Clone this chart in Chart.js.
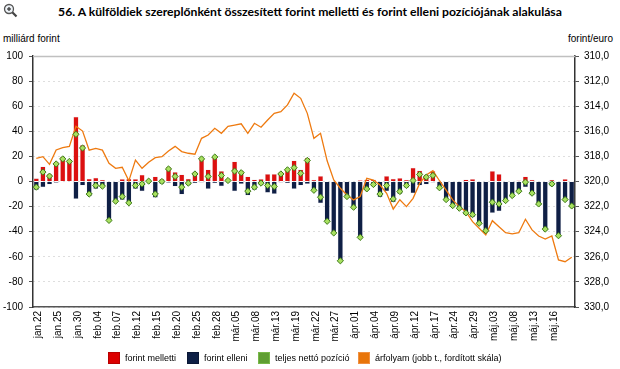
<!DOCTYPE html>
<html>
<head>
<meta charset="utf-8">
<script src="https://cdn.jsdelivr.net/npm/chart.js@4.4.1/dist/chart.umd.min.js"></script>
<style>
  html,body{margin:0;padding:0;background:#fff;}
  #wrap{position:relative;width:620px;height:369px;overflow:hidden;font-family:'Liberation Sans',Arial,sans-serif;color:#000;}
  #title{position:absolute;top:4px;left:0;width:620px;text-align:center;font:bold 12.2px 'Lato','Liberation Sans',sans-serif;white-space:nowrap;}
  .unit{position:absolute;top:33px;font-size:10px;}
  #cv{position:absolute;left:0;top:0;width:620px;height:369px;}
  #legend{position:absolute;top:352px;left:0;width:620px;height:14px;font-size:9px;}
  .lg{position:absolute;top:0;display:flex;align-items:center;white-space:nowrap;}
  .lg span.b{display:inline-block;width:12px;height:12px;margin-right:5px;box-sizing:border-box;}
  #icon{position:absolute;left:3px;top:3px;}
</style>
</head>
<body>
<div id="wrap">
  <svg id="icon" width="15" height="15" viewBox="0 0 15 15">
    <circle cx="6" cy="6" r="4.5" fill="#eef3f8" stroke="#555" stroke-width="1.3"/>
    <line x1="4" y1="6" x2="8" y2="6" stroke="#333" stroke-width="1.2"/>
    <line x1="6" y1="4" x2="6" y2="8" stroke="#333" stroke-width="1.2"/>
    <line x1="9.3" y1="9.3" x2="13.5" y2="13.5" stroke="#444" stroke-width="2.2"/>
  </svg>
  <div id="title">56. A külföldiek szereplőnként összesített forint melletti és forint elleni pozíciójának alakulása</div>
  <div class="unit" style="left:3px;">milliárd forint</div>
  <div class="unit" style="right:7px;">forint/euro</div>
  <div id="cv"><canvas id="c"></canvas></div>
  <div id="legend">
    <div class="lg" style="left:108px;"><span class="b" style="background:#dc0000;border:1px solid #b80000"></span>forint melletti</div>
    <div class="lg" style="left:187px;"><span class="b" style="background:#0d1f45;border:1px solid #0a1735"></span>forint elleni</div>
    <div class="lg" style="left:258px;"><span class="b" style="background:#5f9e32;border:1px solid #78b848"></span>teljes nettó pozíció</div>
    <div class="lg" style="left:358px;"><span class="b" style="background:#e8750a;border:1px solid #f09040"></span>árfolyam (jobb t., fordított skála)</div>
  </div>
</div>
<script>
// Categories (business days, 2019)
const dates = [
 'jan.22','jan.23','jan.24','jan.25','jan.28','jan.29','jan.30','jan.31',
 'feb.01','feb.04','feb.05','feb.06','feb.07','feb.08','feb.11','feb.12','feb.13','feb.14','feb.15','feb.18','feb.19','feb.20','feb.21','feb.22','feb.25','feb.26','feb.27','feb.28',
 'már.01','már.04','már.05','már.06','már.07','már.08','már.11','már.12','már.13','már.14','már.18','már.19','már.20','már.21','már.22','már.25','már.26','már.27','már.28','már.29',
 'ápr.01','ápr.02','ápr.03','ápr.04','ápr.05','ápr.08','ápr.09','ápr.10','ápr.11','ápr.12','ápr.15','ápr.16','ápr.17','ápr.18','ápr.23','ápr.24','ápr.25','ápr.26','ápr.29','ápr.30',
 'máj.02','máj.03','máj.06','máj.07','máj.08','máj.09','máj.10','máj.13','máj.14','máj.15','máj.16','máj.17','máj.20','máj.21'
];
// Tick labels shown on the x axis
const tickLabels = ['jan.22','jan.25','jan.30','feb.04','feb.07','feb.12','feb.15','feb.20','feb.25','feb.28',
 'már.05','már.08','már.13','már.19','már.22','már.27','ápr.01','ápr.04','ápr.09','ápr.12','ápr.17','ápr.24','ápr.29',
 'máj.03','máj.08','máj.13','máj.16'];

// forint melletti (billion HUF)
const forintMelletti = [2.5,12,6,15.5,20,17,51.5,29,2.1,3,1.3,0.5,0.5,2,2.1,2,5.3,0.5,4,2,
 11.5,7.5,5.6,2.1,7.5,19,9.6,20,8.3,2,16,8.8,4,1.6,2,6,6,7.5,10,16.8,
 9.6,19,1.3,4.3,0.3,0.3,0,0,0.3,1,1.5,1.5,0.5,4.3,2.1,2.7,1.3,11,8.8,5.6,
 8.3,0.5,0,0.3,0,1.5,2,0,0.5,8.3,6,0,0,0.8,4,1.3,0,0,1.3,0,2,0];
// forint elleni (billion HUF)
const forintElleni = [-6.7,-4.5,-2.4,-1,-0.5,-0.3,-13.9,-3.2,-12,-5.9,-4.5,-31,-16.5,-14.7,-17.9,-5.9,-7.7,-0.5,-13,-2,
 -1,-4,-10.4,-3.2,-1.3,-0.8,-5.9,-1.3,-3.7,-0.8,-7.7,-1.9,-11.2,-6.7,-3.2,-9,-9.9,-0.8,-1.3,-5.9,
 -3.2,-2,-7.7,-17.3,-32.5,-41.3,-63.7,-12.5,-20.5,-44.5,-7.2,-3.9,-12.5,-7.7,-16.5,-9.9,-5,-9.3,-3.2,-2.4,
 -0.8,-5.9,-15.2,-20,-21.9,-26.7,-28.5,-34.4,-39.7,-25,-23.7,-15.7,-12.5,-9,-4.5,-11.2,-19.2,-39.2,-4,-44,-15.7,-20.5];
// teljes nettó pozíció (billion HUF)
const nettoPozicio = [-4.5,7.5,4.3,14,18,16,37.6,26.7,-10,-3.2,-3.7,-31,-15.7,-12,-17,-3.2,-1.9,0.3,-10,0,
 10,4,-4.5,-1.3,6,18,4,19.5,4.8,0.8,8.3,7,-7.7,-4.5,-1.3,-3.2,-4,6,9.3,11,
 6.5,16.8,-7,-12.5,-31.7,-41,-63.2,-12,-20.5,-44.5,-5.9,-2.4,-10,-3.2,-13.9,-8,-3.2,0.8,5.6,3.5,
 4.8,-5,-14.4,-19.2,-21.3,-25,-26.4,-33.3,-39.2,-16.5,-17.9,-15.2,-11.2,-7.7,-0.5,-9.3,-17.9,-37.9,-1.9,-43.2,-14.4,-19.5];
// árfolyam (HUF/EUR, right axis, reversed)
const arfolyam = [318.15,318.02,318.63,317.49,317.3,317.2,315.6,315.98,317.5,317.36,317.5,318.55,318.95,318.87,319.95,318.29,318.95,318.47,318.1,318.02,
 317.57,317.2,317.62,317.75,317.83,316.56,316.3,315.76,316.16,315.6,315.5,315.4,316.16,315.36,315.68,315.1,314.57,314.43,313.9,312.97,
 313.37,314.57,316.56,316.16,318.35,319.88,320.54,321.08,321.47,321.2,319.75,319.88,320.28,320.94,322.2,321.45,322.0,321.34,320.15,319.48,
 319.14,319.94,320.68,321.47,322.0,322.4,323.2,323.73,324.26,323.12,323.6,324.08,324.18,324.08,323.01,323.86,324.34,324.58,324.34,326.25,326.39,326.04];

const FONT = "'Liberation Sans', Arial, sans-serif";

const topLine = {
  id:'topLine',
  afterDraw(chart){
    const {ctx, chartArea:a} = chart;
    ctx.save();
    ctx.strokeStyle = '#c0c0c0';
    ctx.lineWidth = 1.5;
    ctx.beginPath();
    ctx.moveTo(a.left, a.top + 0.5);
    ctx.lineTo(a.right, a.top + 0.5);
    ctx.stroke();
    ctx.restore();
  }
};

new Chart(document.getElementById('c'), {
  data: {
    labels: dates,
    datasets: [
      { type:'line', label:'teljes nettó pozíció', data: nettoPozicio, yAxisID:'y', showLine:false,
        pointStyle:'rectRot', pointRadius:3.1, pointBackgroundColor:'#a8e060', pointBorderColor:'#3d7a18', pointBorderWidth:1, order:0 },
      { type:'line', label:'árfolyam', data: arfolyam, yAxisID:'y2', borderColor:'#ee7a10', borderWidth:1.3,
        pointRadius:0, tension:0, fill:false, order:1 },
      { type:'bar', label:'forint melletti', data: forintMelletti, yAxisID:'y', stack:'s',
        backgroundColor:'#dc1010', borderColor:'rgba(215,200,210,0.6)', borderWidth:0.5, order:2 },
      { type:'bar', label:'forint elleni', data: forintElleni, yAxisID:'y', stack:'s',
        backgroundColor:'#0f1f45', borderColor:'rgba(200,200,215,0.6)', borderWidth:0.5, order:3 }
    ]
  },
  options: {
    responsive:true, maintainAspectRatio:false, animation:false,
    layout:{ padding:{ top:56, left:0, right:0, bottom:0 } },
    plugins:{ legend:{display:false}, tooltip:{enabled:false}, title:{display:false} },
    datasets:{ bar:{ barPercentage:0.8, categoryPercentage:1 } },
    scales:{
      x:{
        stacked:true,
        grid:{ display:false, drawTicks:false },
        border:{ display:true, color:'#555', width:1.5 },
        ticks:{ autoSkip:false, maxRotation:90, minRotation:90, padding:4, labelOffset:2,
          font:{ family:FONT, size:10 }, color:'#000',
          callback:function(v,i){ return tickLabels.includes(dates[i]) ? dates[i] : ''; } },
        afterFit(s){ s.height = 62; }
      },
      y:{
        position:'left', stacked:true, min:-100, max:100,
        ticks:{ stepSize:20, font:{ family:FONT, size:10 }, color:'#000', padding:6 },
        grid:{ color:'#bdbdbd', tickColor:'#555', tickLength:4, tickBorderDash:[1,0], lineWidth:1 },
        border:{ color:'#333', width:1.5, dash:[1,4] },
        afterFit(s){ s.width = 33; }
      },
      y2:{
        position:'right', reverse:true, min:310, max:330,
        ticks:{ stepSize:2, font:{ family:FONT, size:10 }, color:'#000', padding:5,
          callback:(v)=> v.toFixed(1).replace('.', ',') },
        grid:{ drawOnChartArea:false, tickColor:'#555', tickLength:4 },
        border:{ color:'#333', width:1.5 },
        afterFit(s){ s.width = 45; }
      }
    }
  },
  plugins:[topLine]
});
</script>
</body>
</html>
